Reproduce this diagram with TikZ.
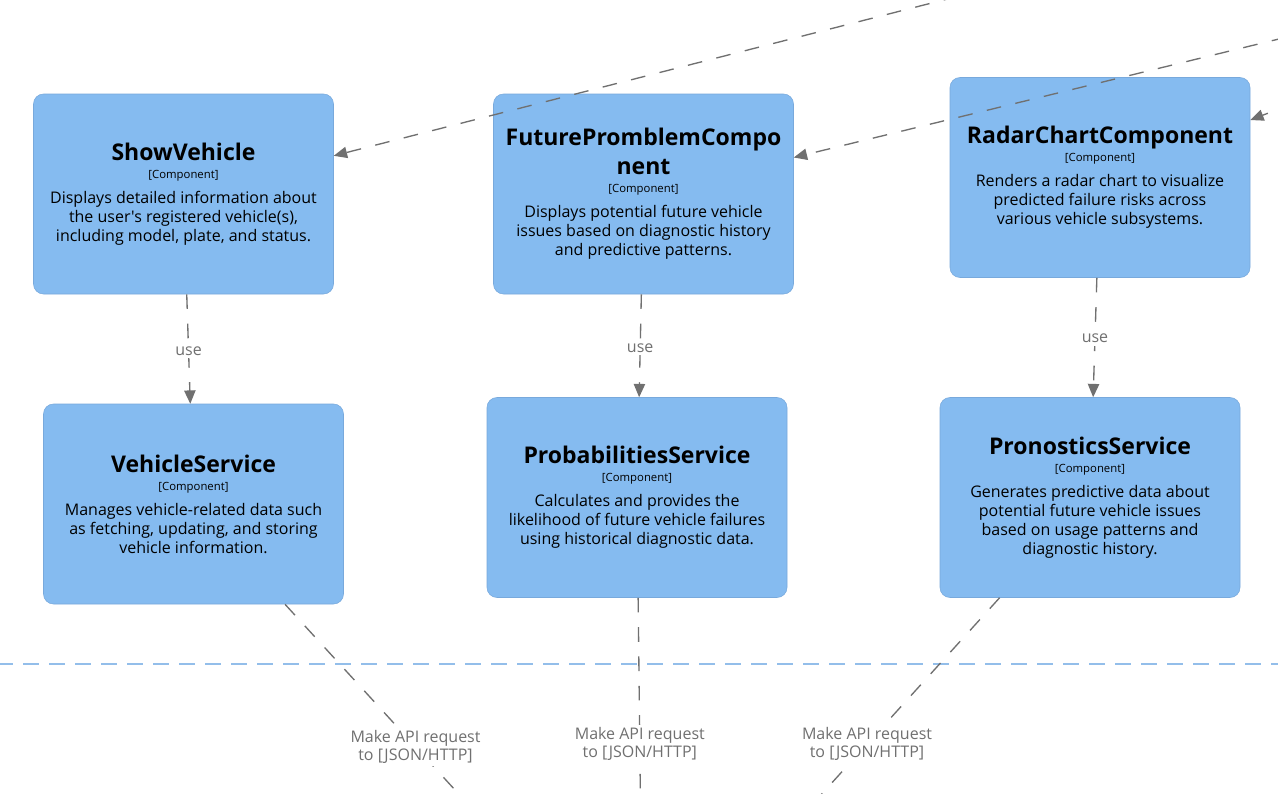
\documentclass[tikz,border=0pt]{standalone}
\usepackage{fontspec}
\setmainfont{Open Sans}[Ligatures=TeXOff]
\usetikzlibrary{calc}
\usetikzlibrary{arrows.meta}

\definecolor{compfill}{HTML}{85BBF0}
\definecolor{compline}{HTML}{78A9DC}
\definecolor{relgray}{HTML}{707070}
\definecolor{bndblue}{HTML}{93BEEA}

\newcommand{\cname}[1]{{\fontsize{17.25}{19}\selectfont\bfseries #1}}
\newcommand{\ctype}{{\fontsize{8.5}{10}\selectfont [Component]}}

\tikzset{
 comp/.style={draw=compline, fill=compfill, rounded corners=7.5pt, minimum width=225pt, minimum height=150pt,
   align=center, font=\fontsize{12}{14.25}\selectfont, inner sep=0pt},
 rel/.style={relgray, line width=1pt, dash pattern=on 11pt off 11pt, -{Triangle[length=10pt,width=8.5pt]}},
 api/.style={relgray, line width=1pt, dash pattern=on 11pt off 11pt},
 lbl/.style={fill=white, text=relgray, font=\fontsize{12}{13.5}\selectfont, align=center, inner sep=2pt}
}

\begin{document}
\begin{tikzpicture}[x=0.75pt, y=-0.75pt]
\useasboundingbox (0,0) rectangle (1278,793);
\clip (0,0) rectangle (1278,793);
\fill[white] (0,0) rectangle (1278,793);
\draw[bndblue, line width=1pt, dash pattern=on 12pt off 7.5pt] (-3,664) -- (1280,664);

\node[comp] (sv) at (183.5,194) {\cname{ShowVehicle}\\[-0.75pt]\ctype\\[4.5pt]
 Displays detailed information about\\the user's registered vehicle(s),\\including model, plate, and status.};
\node[comp] (fp) at (643.5,194) {\cname{FuturePromblemCompo}\\[5.25pt]\cname{nent}\\[-0.75pt]\ctype\\[4.5pt]
 Displays potential future vehicle\\issues based on diagnostic history\\and predictive patterns.};
\node[comp] (rc) at (1100,177.5) {\cname{RadarChartComponent}\\[-0.75pt]\ctype\\[4.5pt]
 Renders a radar chart to visualize\\predicted failure risks across\\various vehicle subsystems.};
\node[comp] (vs) at (193.5,504) {\cname{VehicleService}\\[-0.75pt]\ctype\\[4.5pt]
 Manages vehicle-related data such\\as fetching, updating, and storing\\vehicle information.};
\node[comp] (ps) at (637,497.5) {\cname{ProbabilitiesService}\\[-0.75pt]\ctype\\[4.5pt]
 Calculates and provides the\\likelihood of future vehicle failures\\using historical diagnostic data.};
\node[comp] (pr) at (1090,497.5) {\cname{PronosticsService}\\[-0.75pt]\ctype\\[4.5pt]
 Generates predictive data about\\potential future vehicle issues\\based on usage patterns and\\diagnostic history.};

\coordinate (t1) at (1100,-40);
\coordinate (t2) at (1400,9.4);
\coordinate (t3) at (1350,81.7);
\coordinate (a1) at (510,850);
\coordinate (a2) at (641,850);
\coordinate (a3) at (771,850);

\draw[rel] (t1) -- (sv);
\draw[rel] (t2) -- (fp);
\draw[rel] (t3) -- (rc);

\draw[rel] (sv) -- node[lbl, pos=.52] (u1) {use} (vs);
\draw[rel] (fp) -- node[lbl, pos=.52] (u2) {use} (ps);
\draw[rel] (rc) -- node[lbl, pos=.51] (u3) {use} (pr);

\draw[api] (vs) -- node[lbl, pos=.58] (m1) {Make API request\\to [JSON/HTTP]} (a1);
\draw[api] (ps) -- node[lbl, pos=.58] (m2) {Make API request\\to [JSON/HTTP]} (a2);
\draw[api] (pr) -- node[lbl, pos=.58] (m3) {Make API request\\to [JSON/HTTP]} (a3);
\end{tikzpicture}
\end{document}
